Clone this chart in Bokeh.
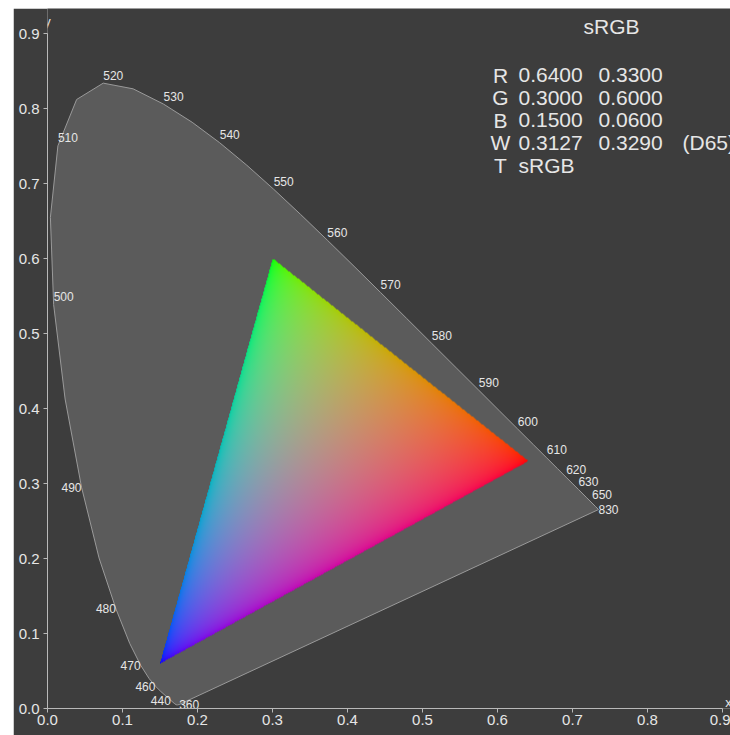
import numpy as np
from bokeh.plotting import figure
from bokeh.layouts import row, column
from bokeh.models import ColumnDataSource, FixedTicker, PrintfTickFormatter, Spacer
from bokeh.core.properties import value
from bokeh.embed import file_html
from bokeh.resources import INLINE

# ---------------- data ----------------
# CIE 1931 2-degree spectral locus (wavelength nm, chromaticity x, y)
wavelengths = [360, 380, 390, 400, 410, 420, 430, 440, 445, 450, 455, 460, 465, 470,
               475, 480, 485, 490, 495, 500, 505, 510, 515, 520, 525, 530, 535, 540,
               545, 550, 555, 560, 565, 570, 575, 580, 585, 590, 595, 600, 605, 610,
               615, 620, 625, 630, 640, 650, 660, 680, 700, 830]
locus_x = [0.17556, 0.17411, 0.17380, 0.17334, 0.17258, 0.17141, 0.16888, 0.16441,
           0.16110, 0.15664, 0.15099, 0.14396, 0.13550, 0.12412, 0.10959, 0.09129,
           0.06871, 0.04539, 0.02346, 0.00817, 0.00386, 0.01387, 0.03885, 0.07430,
           0.11416, 0.15472, 0.19288, 0.22962, 0.26578, 0.30160, 0.33736, 0.37310,
           0.40874, 0.44406, 0.47877, 0.51249, 0.54479, 0.57515, 0.60293, 0.62704,
           0.64823, 0.66576, 0.68008, 0.69150, 0.70061, 0.70792, 0.71903, 0.72599,
           0.73030, 0.73439, 0.73469, 0.73469]
locus_y = [0.00529, 0.00496, 0.00492, 0.00480, 0.00480, 0.00510, 0.00690, 0.01086,
           0.01379, 0.01771, 0.02274, 0.02970, 0.03988, 0.05780, 0.08684, 0.13270,
           0.20072, 0.29498, 0.41270, 0.53842, 0.65482, 0.75019, 0.81202, 0.83380,
           0.82621, 0.80586, 0.78163, 0.75433, 0.72432, 0.69231, 0.65885, 0.62445,
           0.58961, 0.55471, 0.52020, 0.48659, 0.45443, 0.42423, 0.39650, 0.37249,
           0.35139, 0.33401, 0.31975, 0.30834, 0.29930, 0.29203, 0.28093, 0.27401,
           0.26970, 0.26561, 0.26531, 0.26531]

label_wavelengths = [360, 440, 460, 470, 480, 490, 500, 510, 520, 530, 540, 550,
                     560, 570, 580, 590, 600, 610, 620, 630, 650, 830]

primary_names = ["R", "G", "B", "W"]
primary_x = [0.6400, 0.3000, 0.1500, 0.3127]
primary_y = [0.3300, 0.6000, 0.0600, 0.3290]
white_name = "(D65)"
space_name = "sRGB"
transfer_name = "sRGB"

x_ticks = [0.0, 0.1, 0.2, 0.3, 0.4, 0.5, 0.6, 0.7, 0.8, 0.9]
y_ticks = [0.0, 0.1, 0.2, 0.3, 0.4, 0.5, 0.6, 0.7, 0.8, 0.9]

# ---------------- style ----------------
BG = "#3d3d3d"
LOCUS_FILL = "#5b5b5b"
LOCUS_LINE = "#9a9a9a"
AXIS = "#b9b9b9"
TEXT = "#e6e6e6"
FONT = "Liberation Sans"
PX = 750.0  # pixels per chromaticity unit

W, H = 717, 727
MB_LEFT, MB_BOTTOM = 34, 27
p = figure(width=W, height=H, output_backend="svg", toolbar_location=None,
           x_range=(0, (W - MB_LEFT) / PX), y_range=(0, (H - MB_BOTTOM) / PX),
           min_border_left=MB_LEFT, min_border_bottom=MB_BOTTOM,
           min_border_top=0, min_border_right=0)
p.background_fill_color = BG
p.border_fill_color = BG
p.outline_line_color = None
p.grid.visible = False

for ax, ticks in ((p.xaxis, x_ticks), (p.yaxis, y_ticks)):
    ax.ticker = FixedTicker(ticks=ticks, minor_ticks=[])
    ax.formatter = PrintfTickFormatter(format="%.1f")
    ax.bounds = (ticks[0], ticks[-1])
    ax.axis_line_color = AXIS
    ax.major_tick_line_color = AXIS
    ax.major_tick_out = 4
    ax.major_tick_in = 0
    ax.minor_tick_line_color = None
    ax.major_label_text_color = TEXT
    ax.major_label_text_font = FONT
    ax.major_label_text_font_size = "15px"
p.xaxis.major_label_standoff = 2
p.yaxis.major_label_standoff = 4

# spectral locus
p.patch(locus_x, locus_y, fill_color=LOCUS_FILL, line_color=LOCUS_LINE, line_width=1)

# gamut triangle as a colour image
xr, yr = np.array(primary_x[:3]), np.array(primary_y[:3])
xw, yw = primary_x[3], primary_y[3]


def xyz(x, y):
    return np.array([x / y, 1.0, (1 - x - y) / y])

P = np.stack([xyz(a, b) for a, b in zip(xr, yr)], axis=1)
S = np.linalg.solve(P, xyz(xw, yw))
M = np.linalg.inv(P * S)

x0, x1, y0, y1 = xr.min(), xr.max(), yr.min(), yr.max()
nx, ny = int(round((x1 - x0) * PX)), int(round((y1 - y0) * PX))
gx = x0 + (np.arange(nx) + 0.5) / nx * (x1 - x0)
gy = y0 + (np.arange(ny) + 0.5) / ny * (y1 - y0)
GX, GY = np.meshgrid(gx, gy)
XYZ = np.stack([GX / GY, np.ones_like(GX), (1 - GX - GY) / GY], axis=-1)
lin = XYZ @ M.T
inside = np.all(lin >= -1e-9, axis=-1)
lin = np.clip(lin, 0, None)
lin = lin / lin.sum(axis=-1, keepdims=True)
enc = np.where(lin <= 0.0031308, 12.92 * lin, 1.055 * np.power(lin, 1 / 2.4) - 0.055)
img = np.zeros((ny, nx), dtype=np.uint32)
view = img.view(dtype=np.uint8).reshape((ny, nx, 4))
view[..., :3] = np.clip(enc * 255 + 0.5, 0, 255).astype(np.uint8)
view[..., 3] = np.where(inside, 255, 0).astype(np.uint8)
p.image_rgba(image=[img], x=x0, y=y0, dw=x1 - x0, dh=y1 - y0)

# wavelength labels
idx = [wavelengths.index(w) for w in label_wavelengths]
right_side = {440, 460, 470, 480, 490}
lift = {w: (0 if (w in right_side or w in (360, 830)) else -8) for w in label_wavelengths}
lab = ColumnDataSource(dict(
    x=[locus_x[i] for i in idx], y=[locus_y[i] for i in idx],
    t=[str(w) for w in label_wavelengths],
    align=["right" if w in right_side else "left" for w in label_wavelengths],
    dy=[lift[w] for w in label_wavelengths]))
p.text(x="x", y="y", text="t", source=lab, text_align="align", y_offset="dy",
       text_baseline="middle", text_color=TEXT, text_font=value(FONT),
       text_font_size="12px")

# axis names
p.text(x=[x_ticks[0]], y=[y_ticks[-1]], text=["y"], y_offset=-12, text_align="center",
       text_baseline="middle", text_color=TEXT, text_font=value(FONT), text_font_size="13px")
p.text(x=[x_ticks[-1]], y=[y_ticks[0]], text=["x"], x_offset=6, y_offset=-6,
       text_align="center", text_baseline="middle", text_color=TEXT,
       text_font=value(FONT), text_font_size="13px")

# information block
def dx(px):
    return (px - 47) / PX

def dyy(py):
    return (708.3 - py) / PX

info_font = "21px"
p.text(x=[dx(611)], y=[dyy(26)], text=[space_name], text_align="center",
       text_baseline="middle", text_color=TEXT, text_font=value(FONT),
       text_font_size=info_font)
row_y = [dyy(75 + 22.5 * k) for k in range(5)]
letters = primary_names + ["T"]
p.text(x=[dx(500)] * 5, y=row_y, text=letters, text_align="center",
       text_baseline="middle", text_color=TEXT, text_font=value(FONT),
       text_font_size=info_font)
col1 = ["%.4f" % v for v in primary_x] + [transfer_name]
col2 = ["%.4f" % v for v in primary_y]
p.text(x=[dx(518)] * 5, y=row_y, text=col1, text_align="left",
       text_baseline="middle", text_color=TEXT, text_font=value(FONT),
       text_font_size=info_font)
p.text(x=[dx(598)] * 4, y=row_y[:4], text=col2, text_align="left",
       text_baseline="middle", text_color=TEXT, text_font=value(FONT),
       text_font_size=info_font)
p.text(x=[dx(682)], y=[row_y[3]], text=[white_name], text_align="left",
       text_baseline="middle", text_color=TEXT, text_font=value(FONT),
       text_font_size=info_font)

layout = column(Spacer(width=W, height=8),
                row(Spacer(width=13, height=H), p))
open("out.html", "w").write(file_html(layout, INLINE))
